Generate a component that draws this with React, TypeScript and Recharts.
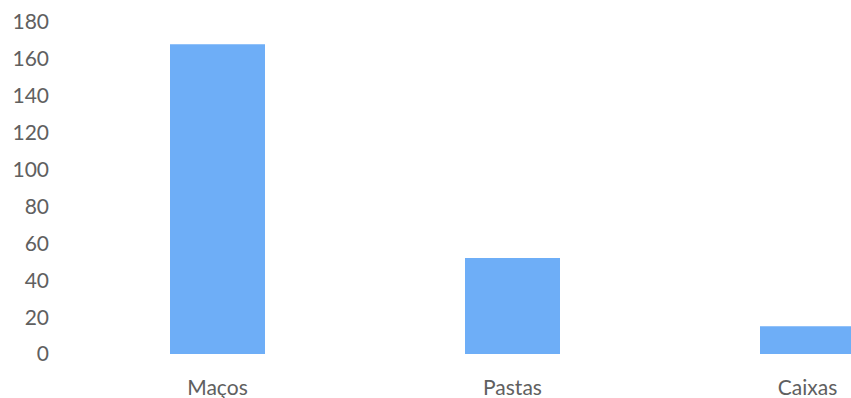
import React from 'react';
import { BarChart, Bar, XAxis, YAxis } from 'recharts';

const categories = ['Maços', 'Pastas', 'Caixas'];
const quantities = [168, 52, 15];
const yTicks = [0, 20, 40, 60, 80, 100, 120, 140, 160, 180];

const data = categories.map((name, i) => ({ name, value: quantities[i] }));

const tickStyle = { fill: '#606060', fontSize: 21, fontFamily: 'Lato, "Open Sans", sans-serif' };

const App: React.FC = () => {
  return (
    <div
      style={{
        position: 'absolute',
        left: 0,
        top: 0,
        width: 851,
        height: 398,
        overflow: 'hidden',
        background: '#ffffff',
      }}
    >
      <BarChart
        width={955}
        height={398}
        data={data}
        margin={{ top: 22, right: 0, bottom: 0, left: 0 }}
      >
        <XAxis
          dataKey="name"
          axisLine={false}
          tickLine={false}
          tickSize={0}
          tickMargin={26}
          height={44}
          tick={tickStyle}
        />
        <YAxis
          domain={[0, 180]}
          ticks={yTicks}
          axisLine={false}
          tickLine={false}
          tickSize={0}
          tickMargin={21}
          width={70}
          tick={tickStyle}
          interval={0}
        />
        <Bar dataKey="value" fill="#6eaef7" barSize={95} isAnimationActive={false} />
      </BarChart>
    </div>
  );
};

export default App;
